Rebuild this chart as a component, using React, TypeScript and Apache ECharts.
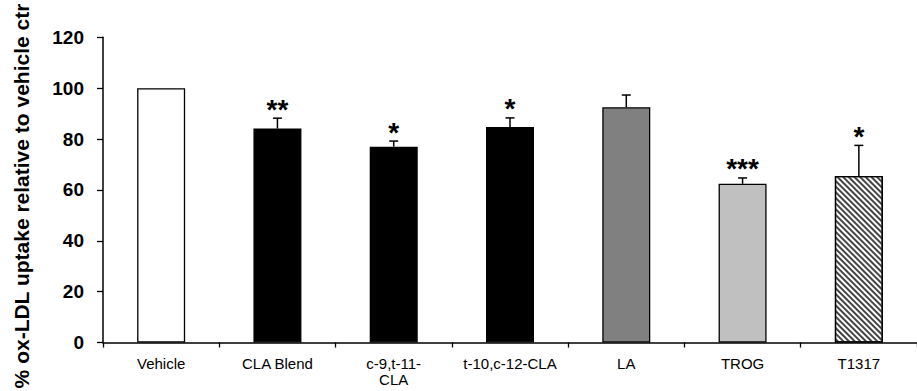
import React, { useEffect, useRef } from "react";
import * as echarts from "echarts";

const categories = ["Vehicle", "CLA Blend", "c-9,t-11-\nCLA", "t-10,c-12-CLA", "LA", "TROG", "T1317"];
const means = [100, 84.1, 77.0, 84.7, 92.5, 62.4, 65.5];
const errorTops = [100, 88.2, 79.2, 88.3, 97.3, 64.7, 77.5];
const significance = ["", "**", "*", "*", "", "***", "*"];
const yAxisTitle = "% ox-LDL uptake relative to vehicle ctr";

const barFills = ["#ffffff", "#000000", "#000000", "#000000", "#808080", "#c0c0c0", "#ffffff"];
const hatched = [false, false, false, false, false, false, true];

export default function App() {
  const ref = useRef<HTMLDivElement>(null);
  useEffect(() => {
    if (!ref.current) return;
    const chart = echarts.init(ref.current, null, { renderer: "svg" });
    const font = '"Liberation Sans", Arial, sans-serif';
    const barData = means.map((v, i) => ({
      value: v,
      itemStyle: {
        color: barFills[i],
        borderColor: "#000",
        borderWidth: 1.3,
        decal: hatched[i]
          ? {
              symbol: "rect",
              symbolSize: 1,
              color: "#444444",
              dashArrayX: [1, 0],
              dashArrayY: [1.6, 1.8],
              rotation: Math.PI / 4,
            }
          : undefined,
      },
    }));
    const errData = means.map((v, i) => [i, v, errorTops[i]]);
    chart.setOption({
      animation: false,
      aria: { enabled: false, decal: { show: true } },
      grid: { left: 103, right: -9, top: 37.3, bottom: 48.5, containLabel: false },
      xAxis: {
        type: "category",
        data: categories,
        axisLine: { lineStyle: { color: "#000", width: 1.5 } },
        axisTick: { show: true, length: 5, lineStyle: { color: "#000", width: 1.3 } },
        axisLabel: {
          interval: 0,
          color: "#000",
          fontFamily: font,
          fontSize: 15,
          lineHeight: 16,
          margin: 13,
        },
      },
      yAxis: {
        type: "value",
        min: 0,
        max: 120,
        interval: 20,
        axisLine: { show: true, lineStyle: { color: "#000", width: 1.5 } },
        axisTick: { show: true, length: 6, lineStyle: { color: "#000", width: 1.3 } },
        splitLine: { show: false },
        axisLabel: {
          color: "#000",
          fontFamily: font,
          fontSize: 19,
          fontWeight: "bold",
          margin: 19,
        },
      },
      graphic: [
        {
          type: "text",
          x: 21,
          y: 196,
          rotation: Math.PI / 2,
          style: {
            text: yAxisTitle,
            fill: "#000",
            font: `bold 21px ${font}`,
            textAlign: "center",
            textVerticalAlign: "middle",
          },
        },
      ],
      series: [
        {
          type: "bar",
          data: barData,
          barWidth: 48,
          z: 2,
        },
        {
          type: "custom",
          z: 3,
          data: errData,
          renderItem: (params: any, api: any) => {
            const i = api.value(0);
            const m = api.value(1);
            const t = api.value(2);
            const top = api.coord([i, t]);
            const base = api.coord([i, m]);
            const children: any[] = [];
            if (t > m) {
              children.push({
                type: "line",
                shape: { x1: top[0], y1: base[1], x2: top[0], y2: top[1] },
                style: { stroke: "#000", lineWidth: 1.5 },
              });
              children.push({
                type: "line",
                shape: { x1: top[0] - 4.5, y1: top[1], x2: top[0] + 4.5, y2: top[1] },
                style: { stroke: "#000", lineWidth: 1.5 },
              });
            }
            const s = significance[params.dataIndex];
            if (s) {
              children.push({
                type: "text",
                x: top[0],
                y: top[1] - 9,
                style: {
                  text: s,
                  fill: "#000",
                  font: `bold 28px ${font}`,
                  textAlign: "center",
                  textVerticalAlign: "middle",
                },
              });
            }
            return { type: "group", children };
          },
        },
      ],
    });
    return () => chart.dispose();
  }, []);
  return (
    <div
      ref={ref}
      style={{ position: "fixed", left: 0, top: 0, width: 917, height: 391, background: "#fff" }}
    />
  );
}
